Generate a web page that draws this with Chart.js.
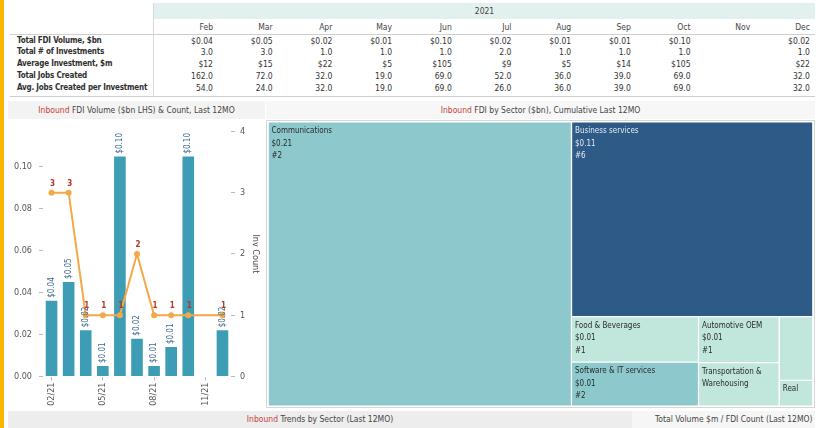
<!DOCTYPE html>
<html lang="en">
<head>
<meta charset="UTF-8">
<title>Inbound FDI dashboard</title>
<script src="https://cdn.jsdelivr.net/npm/chart.js@4.4.0/dist/chart.umd.min.js"></script>
<style>
  body { margin: 0; width: 819px; height: 428px; overflow: hidden; background: #fff; position: relative;
         font-family: "Liberation Sans Narrow", "DejaVu Sans Condensed", "Arial Narrow", sans-serif; color: #333; }
  .abs { position: absolute; }
  #yellow { left: 0; top: 0; width: 4px; height: 428px; background: #F7B500; }
  #band { left: 154px; top: 3px; width: 661px; height: 16px; background: #E3F0F0; font-size: 8.5px; line-height: 16px; text-align: center; color: #444; }
  .hline { height: 1px; background: #CFCFCF; }
  .cell { font-size: 8.5px; height: 12px; line-height: 12px; text-align: right; white-space: nowrap; }
  .rowlab { font-size: 8px; height: 12px; line-height: 12px; font-weight: bold; white-space: nowrap; color: #2f2f2f; letter-spacing: -0.2px; }
  .title { font-size: 8.5px; height: 18px; line-height: 18px; text-align: center; color: #444; background: #F3F3F3; white-space: nowrap; }
  .title b { color: #C8423A; font-weight: normal; }
  #tmbox { left: 266px; top: 120px; width: 547px; height: 286px; border: 1px solid #D6D6D6; background: #fff; }
</style>
</head>
<body>
<div class="abs" id="yellow"></div>
<div class="abs" id="band">2021</div>
<div class="abs" style="left:153px;top:3px;width:1px;height:94px;background:#D8D8D8"></div>
<div class="abs hline" style="left:10px;top:34px;width:805px"></div>
<div class="abs hline" style="left:10px;top:96px;width:805px"></div>
<div id="table"></div>

<div class="abs title" style="left:8px;top:101px;width:257px"><b>Inbound</b> FDI Volume ($bn LHS) &amp; Count, Last 12MO</div>
<div class="abs title" style="left:266px;top:101px;width:549px;background:#F7F7F7"><b>Inbound</b> FDI by Sector ($bn), Cumulative Last 12MO</div>

<div class="abs" style="left:8px;top:119px;width:257px;height:292px">
  <canvas id="barChart" width="257" height="292"></canvas>
</div>
<div class="abs" id="tmbox">
  <canvas id="treeChart" width="547" height="286"></canvas>
</div>

<div class="abs title" style="left:8px;top:411px;width:624px;height:17px;line-height:17px;background:#EDEDED"><b>Inbound</b> Trends by Sector (Last 12MO)</div>
<div class="abs title" style="left:632px;top:411px;width:183px;height:17px;line-height:17px;background:#F6F6F6;text-align:right">Total Volume $m / FDI Count (Last 12MO)&nbsp;</div>

<script>
// monthly data, 2021 (Nov had no deals)
var months = ['Feb', 'Mar', 'Apr', 'May', 'Jun', 'Jul', 'Aug', 'Sep', 'Oct', 'Nov', 'Dec'];
var monthTicks = ['02/21', '03/21', '04/21', '05/21', '06/21', '07/21', '08/21', '09/21', '10/21', '11/21', '12/21'];
var fdiVolume = [36, 45, 22, 5, 104.6, 18, 5, 14, 104.6, null, 22];   // $m
var investments = [3, 3, 1, 1, 1, 2, 1, 1, 1, null, 1];
var jobsCreated = [162, 72, 32, 19, 69, 52, 36, 39, 69, null, 32];

// sectors, cumulative last 12 months
var sectors = ['Communications', 'Business services', 'Food & Beverages', 'Software & IT services',
               'Automotive OEM', 'Transportation & Warehousing', 'Consumer Products', 'Real Estate'];
var sectorVolume = [209, 114, 14, 13.5, 9, 8.5, 5.2, 2.1];   // $m
var sectorCount = [2, 6, 1, 2, 1, 1, 1, 1];

var FONT = '"Liberation Sans Narrow", "DejaVu Sans Condensed", "Arial Narrow", sans-serif';

function bn(m) { return '$' + (Math.round(m / 10) / 100).toFixed(2); }

// ---------- table ----------
var rows = [
  ['Total FDI Volume, $bn', function (i) { return bn(fdiVolume[i]); }],
  ['Total # of Investments', function (i) { return investments[i].toFixed(1); }],
  ['Average Investment, $m', function (i) { return '$' + Math.round(fdiVolume[i] / investments[i]); }],
  ['Total Jobs Created', function (i) { return jobsCreated[i].toFixed(1); }],
  ['Avg. Jobs Created per Investment', function (i) { return (jobsCreated[i] / investments[i]).toFixed(1); }]
];
var html = '';
var colW = 59.7, colX = 153.3;
for (var i = 0; i < months.length; i++) {
  html += '<div class="abs cell" style="left:' + (colX + colW * i) + 'px;top:20.5px;width:' + colW + 'px;color:#444">' + months[i] + '</div>';
}
for (var r = 0; r < rows.length; r++) {
  var rowTop = (34.7 + r * 11.7).toFixed(1);
  html += '<div class="abs rowlab" style="left:17px;top:' + rowTop + 'px">' + rows[r][0] + '</div>';
  for (var i = 0; i < months.length; i++) {
    if (investments[i] == null) continue;
    html += '<div class="abs cell" style="left:' + (colX + colW * i).toFixed(1) + 'px;top:' + rowTop + 'px;width:' + colW + 'px">' + rows[r][1](i) + '</div>';
  }
}
document.getElementById('table').innerHTML = html;

Chart.defaults.font.family = FONT;
Chart.defaults.font.size = 9;
Chart.defaults.color = '#555';

// ---------- bar + line ----------
var barLabels = {
  id: 'barLabels',
  afterDatasetsDraw: function (chart) {
    var ctx = chart.ctx;
    var bars = chart.getDatasetMeta(0).data;
    ctx.save();
    ctx.font = '8px ' + FONT;
    ctx.fillStyle = '#416B8E';
    ctx.textBaseline = 'middle';
    ctx.textAlign = 'left';
    bars.forEach(function (b, i) {
      if (fdiVolume[i] == null) return;
      ctx.save();
      ctx.translate(b.x, b.y - 3);
      ctx.rotate(-Math.PI / 2);
      ctx.fillText(bn(fdiVolume[i]), 0, 0);
      ctx.restore();
    });
    var pts = chart.getDatasetMeta(1).data;
    ctx.font = 'bold 8px ' + FONT;
    ctx.fillStyle = '#B3352C';
    ctx.textAlign = 'center';
    pts.forEach(function (p, i) {
      if (investments[i] == null) return;
      ctx.fillText(String(investments[i]), p.x + 1, p.y - 9);
    });
    ctx.restore();
  }
};

new Chart(document.getElementById('barChart'), {
  data: {
    labels: monthTicks,
    datasets: [{
      type: 'bar',
      label: 'FDI Volume',
      data: fdiVolume.map(function (v) { return v == null ? null : v / 1000; }),
      backgroundColor: '#3D9DB5',
      categoryPercentage: 1,
      barPercentage: 0.68,
      yAxisID: 'y',
      order: 1
    }, {
      type: 'line',
      label: 'Inv Count',
      data: investments,
      borderColor: '#F4A847',
      backgroundColor: '#F4A847',
      borderWidth: 2,
      pointRadius: 2,
      tension: 0,
      spanGaps: true,
      yAxisID: 'y1',
      order: 0
    }]
  },
  options: {
    responsive: false,
    animation: false,
    layout: { padding: { top: 7 } },
    plugins: { legend: { display: false }, tooltip: { enabled: false } },
    scales: {
      x: {
        grid: { display: true, drawOnChartArea: false, offset: false, tickLength: 4,
                color: function (c) { return c.index % 3 === 0 ? '#BBBBBB' : 'rgba(0,0,0,0)'; } },
        border: { display: false },
        ticks: { autoSkip: false, maxRotation: 90, minRotation: 90, padding: 2,
                 callback: function (v, i) { return i % 3 === 0 ? monthTicks[i] : ''; } },
        afterFit: function (s) { s.height = 34.5; }
      },
      y: {
        position: 'left',
        min: 0, max: 0.1166,
        grid: { drawOnChartArea: false, tickLength: 4, color: '#BBBBBB' },
        border: { display: false },
        ticks: { stepSize: 0.02, includeBounds: false, padding: 7,
                 callback: function (v) { return v.toFixed(2); } },
        afterFit: function (s) { s.width = 35; }
      },
      y1: {
        position: 'right',
        min: 0, max: 4,
        grid: { drawOnChartArea: false, tickLength: 4, color: '#BBBBBB' },
        border: { display: false },
        ticks: { stepSize: 1, padding: 5 },
        title: { display: true, text: 'Inv Count', color: '#444', font: { size: 9 }, padding: { top: 4, bottom: 0 } },
        afterFit: function (s) { s.width = 34; }
      }
    }
  },
  plugins: [barLabels]
});

// ---------- treemap (squarified, golden ratio) ----------
var TM_W = 545, TM_H = 284;

function squarify(values, x0, y0, x1, y1) {
  var ratio = (1 + Math.sqrt(5)) / 2;
  var out = [];
  var value = values.reduce(function (a, b) { return a + b; }, 0);
  var i0 = 0, i1 = 0, n = values.length;
  while (i0 < n) {
    var dx = x1 - x0, dy = y1 - y0;
    var sum = values[i1++];
    var minV = sum, maxV = sum;
    var alpha = Math.max(dy / dx, dx / dy) / (value * ratio);
    var beta = sum * sum * alpha;
    var minRatio = Math.max(maxV / beta, beta / minV);
    for (; i1 < n; ++i1) {
      var nv = values[i1];
      sum += nv;
      if (nv < minV) minV = nv;
      if (nv > maxV) maxV = nv;
      beta = sum * sum * alpha;
      var newRatio = Math.max(maxV / beta, beta / minV);
      if (newRatio > minRatio) { sum -= nv; break; }
      minRatio = newRatio;
    }
    var k;
    if (dx < dy) {
      var h = dy * sum / value, x = x0;
      for (k = i0; k < i1; k++) { var w = dx * values[k] / sum; out[k] = { x0: x, y0: y0, x1: x + w, y1: y0 + h }; x += w; }
      y0 += h;
    } else {
      var w2 = dx * sum / value, y = y0;
      for (k = i0; k < i1; k++) { var hh = dy * values[k] / sum; out[k] = { x0: x0, y0: y, x1: x0 + w2, y1: y + hh }; y += hh; }
      x0 += w2;
    }
    value -= sum;
    i0 = i1;
  }
  return out;
}

function hex(c) { return [parseInt(c.substr(1, 2), 16), parseInt(c.substr(3, 2), 16), parseInt(c.substr(5, 2), 16)]; }
var ramp = [[0, '#C1E6DC'], [0.2, '#8DC9CC'], [1, '#2E5A87']];
function countColor(t) {
  for (var i = 1; i < ramp.length; i++) {
    if (t <= ramp[i][0]) {
      var a = hex(ramp[i - 1][1]), b = hex(ramp[i][1]);
      var f = (t - ramp[i - 1][0]) / (ramp[i][0] - ramp[i - 1][0]);
      return 'rgb(' + a.map(function (v, j) { return Math.round(v + (b[j] - v) * f); }).join(',') + ')';
    }
  }
  return ramp[ramp.length - 1][1];
}

var cells = squarify(sectorVolume, 0, 0, TM_W, TM_H);
var maxCount = Math.max.apply(null, sectorCount);
var gap = 0.6;

var treeLabels = {
  id: 'treeLabels',
  afterDatasetsDraw: function (chart) {
    var ctx = chart.ctx, sx = chart.scales.x, sy = chart.scales.y;
    ctx.save();
    ctx.font = '8px ' + FONT;
    ctx.textBaseline = 'middle';
    ctx.textAlign = 'left';
    cells.forEach(function (c, i) {
      var L = sx.getPixelForValue(c.x0), R = sx.getPixelForValue(c.x1);
      var T = sy.getPixelForValue(c.y0), B = sy.getPixelForValue(c.y1);
      var maxW = R - L - 6;
      var words = sectors[i].split(' '), lines = [], cur = '';
      for (var w = 0; w < words.length; w++) {
        if (ctx.measureText(words[w]).width > maxW) return;
        var test = cur ? cur + ' ' + words[w] : words[w];
        if (ctx.measureText(test).width > maxW) { lines.push(cur); cur = words[w]; } else cur = test;
      }
      lines.push(cur);
      var lh = 12.5, first = 9;
      var fits = function (nl) { return first + (nl - 1) * lh + 5 <= B - T; };
      var all = lines.concat([bn(sectorVolume[i]), '#' + sectorCount[i]]);
      if (!fits(all.length)) {
        all = lines;
        while (all.length && !fits(all.length)) all = all.slice(0, -1);
      }
      var t = (sectorCount[i] - 1) / (maxCount - 1);
      ctx.fillStyle = t > 0.5 ? '#E4ECF4' : '#2A2A2A';
      all.forEach(function (s, j) { ctx.fillText(s, L + 3.5, T + first + j * lh); });
    });
    ctx.restore();
  }
};

new Chart(document.getElementById('treeChart'), {
  type: 'line',
  data: {
    datasets: cells.map(function (c, i) {
      var col = countColor((sectorCount[i] - 1) / (maxCount - 1));
      return {
        label: sectors[i],
        data: [{ x: c.x0 + gap, y: c.y0 + gap }, { x: c.x1 - gap, y: c.y0 + gap }],
        fill: { target: { value: c.y1 - gap }, above: col, below: col },
        backgroundColor: col,
        borderWidth: 0,
        pointRadius: 0
      };
    })
  },
  options: {
    responsive: false,
    animation: false,
    layout: { padding: 1 },
    plugins: { legend: { display: false }, tooltip: { enabled: false } },
    scales: {
      x: { type: 'linear', min: 0, max: TM_W, display: false },
      y: { type: 'linear', min: 0, max: TM_H, reverse: true, display: false }
    }
  },
  plugins: [treeLabels]
});
</script>
</body>
</html>
